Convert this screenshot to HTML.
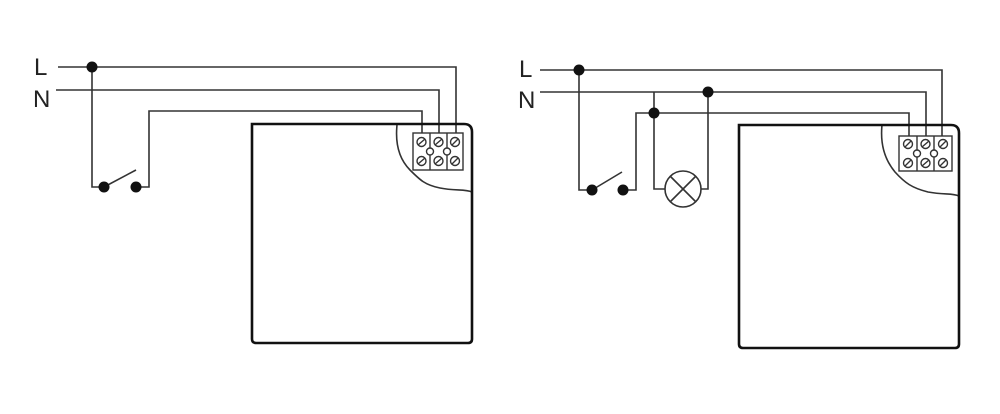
<!DOCTYPE html>
<html><head><style>body{margin:0;background:#fff}svg{display:block}</style></head><body>
<svg width="1000" height="414" viewBox="0 0 1000 414" xmlns="http://www.w3.org/2000/svg" font-family="Liberation Sans, sans-serif">
<g fill="#222" font-size="24">
<text x="34" y="75">L</text><text x="33" y="107">N</text>
<text x="519" y="77">L</text><text x="518" y="108">N</text>
</g>
<g fill="none" stroke="#333" stroke-width="1.6">
<!-- left -->
<polyline points="58,67 456,67 456,133"/>
<polyline points="56,90 439,90 439,133"/>
<polyline points="92,67 92,187 104,187"/>
<polyline points="136,187 149,187 149,111 422,111 422,133"/>
<line x1="104" y1="187" x2="136" y2="170"/>
<!-- right -->
<polyline points="540,70 942,70 942,136"/>
<polyline points="540,92 926,92 926,136"/>
<polyline points="579,70 579,190 592,190"/>
<polyline points="623,190 636,190 636,113 909,113 909,136"/>
<line x1="592" y1="190" x2="622" y2="172"/>
<polyline points="654,92 654,189 665,189"/>
<polyline points="701,189 708,189 708,92"/>
<circle cx="683" cy="189" r="18"/>
<line x1="670" y1="176" x2="696" y2="202"/><line x1="696" y1="176" x2="670" y2="202"/>
<!-- cutout curves -->
<path d="M397,125 C395,145 400,160 410,170 C420,180 425,185 440,188 C455,191 465,189 472,192"/>
<path d="M882,125 C880,145 885,160 895,172 C905,183 912,188 928,192 C945,195 952,193 959,196"/>
</g>
<g fill="none" stroke="#111" stroke-width="2.6">
<path d="M252,124 H464 Q472,124 472,132 V339 Q472,343 468,343 H256 Q252,343 252,339 Z"/>
<path d="M739,125 H951 Q959,125 959,133 V344 Q959,348 955,348 H743 Q739,348 739,344 Z"/>
</g>
<g fill="#111">
<circle cx="92" cy="67" r="5.5"/><circle cx="104" cy="187" r="5.5"/><circle cx="136" cy="187" r="5.5"/>
<circle cx="579" cy="70" r="5.5"/><circle cx="592" cy="190" r="5.5"/><circle cx="623" cy="190" r="5.5"/>
<circle cx="654" cy="113" r="5.5"/><circle cx="708" cy="92" r="5.5"/>
</g>
<g id="tb1" stroke="#333" stroke-width="1.4" fill="#fff">
<rect x="413" y="133" width="50" height="37"/>
<line x1="430" y1="133" x2="430" y2="170"/><line x1="447" y1="133" x2="447" y2="170"/>
<circle cx="421.5" cy="142" r="4.5"/><circle cx="438.5" cy="142" r="4.5"/><circle cx="455" cy="142" r="4.5"/>
<circle cx="421.5" cy="161" r="4.5"/><circle cx="438.5" cy="161" r="4.5"/><circle cx="455" cy="161" r="4.5"/>
<circle cx="430" cy="151.5" r="3.5"/><circle cx="447" cy="151.5" r="3.5"/>
<path d="M418,145 L425,139 M435,145 L442,139 M452,145 L458,139 M418,164 L425,158 M435,164 L442,158 M452,164 L458,158"/>
</g>
<g stroke="#333" stroke-width="1.4" fill="#fff">
<rect x="899" y="136" width="53" height="35"/>
<line x1="917" y1="136" x2="917" y2="171"/><line x1="934" y1="136" x2="934" y2="171"/>
<circle cx="908" cy="144" r="4.5"/><circle cx="925.5" cy="144" r="4.5"/><circle cx="943" cy="144" r="4.5"/>
<circle cx="908" cy="163" r="4.5"/><circle cx="925.5" cy="163" r="4.5"/><circle cx="943" cy="163" r="4.5"/>
<circle cx="917" cy="153.5" r="3.5"/><circle cx="934" cy="153.5" r="3.5"/>
<path d="M905,147 L911,141 M922,147 L929,141 M940,147 L946,141 M905,166 L911,160 M922,166 L929,160 M940,166 L946,160"/>
</g>
</svg>
</body></html>
